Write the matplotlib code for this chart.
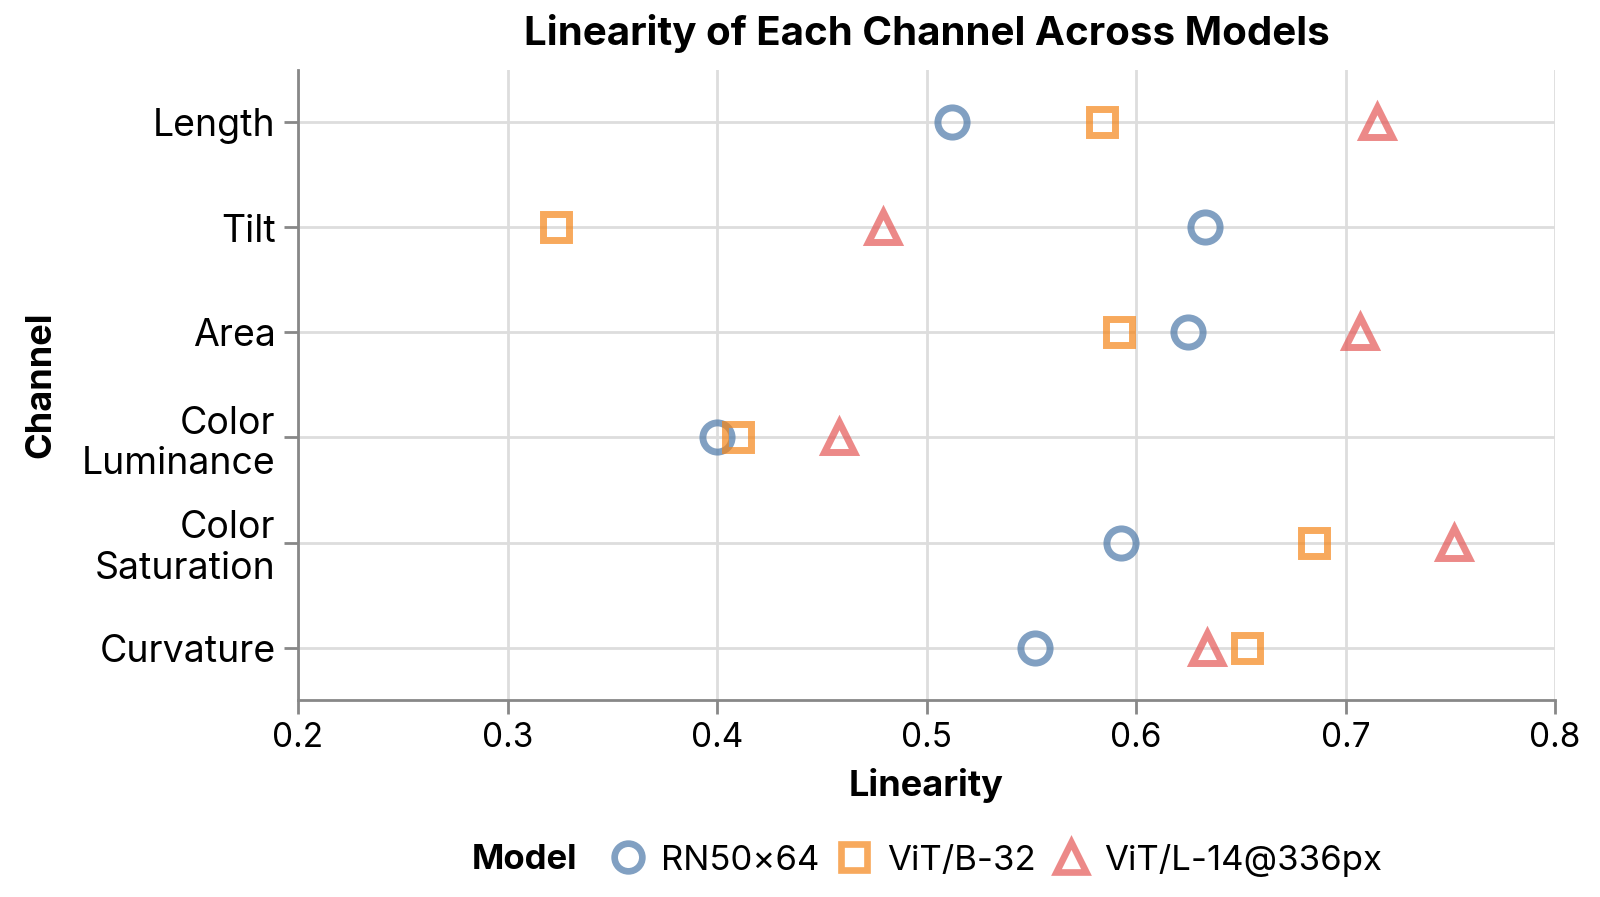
import matplotlib.pyplot as plt
from matplotlib.lines import Line2D

plt.rcParams['font.family'] = ['Inter', 'DejaVu Sans']

# Données
channels = ["Length", "Tilt", "Area", "Color\nLuminance", "Color\nSaturation", "Curvature"]
models = ["RN50×64", "ViT/B-32", "ViT/L-14@336px"]
rn50 = [0.512, 0.633, 0.625, 0.400, 0.593, 0.552]
vitb32 = [0.584, 0.323, 0.592, 0.410, 0.685, 0.653]
vitl14 = [0.715, 0.479, 0.707, 0.458, 0.752, 0.634]

colors = ["#4c78a8", "#f58518", "#e45756"]
markers = ["o", "s", "^"]
sizes = [21, 19, 22]

fig = plt.figure(figsize=(16, 8.97), dpi=100)
ax = fig.add_axes([298 / 1600, 1 - 700 / 897, (1555 - 298) / 1600, 630 / 897])

ypos = list(range(len(channels)))
for vals, c, m, s in zip([rn50, vitb32, vitl14], colors, markers, sizes):
    ax.plot(vals, ypos, linestyle="none", marker=m, markersize=s,
            markerfacecolor="none", markeredgecolor=c, markeredgewidth=5,
            alpha=0.7, zorder=3)

ax.set_xlim(0.2, 0.8)
ax.set_ylim(len(channels) - 0.5, -0.5)
ax.set_xticks([0.2, 0.3, 0.4, 0.5, 0.6, 0.7, 0.8])
ax.set_xticklabels(["0.2", "0.3", "0.4", "0.5", "0.6", "0.7", "0.8"])
ax.set_yticks(ypos)
ax.set_yticklabels(channels, linespacing=1.15)

ax.grid(True, color="#dddddd", linewidth=2)
ax.set_axisbelow(True)
for side in ["top", "right"]:
    ax.spines[side].set_visible(False)
for side in ["left", "bottom"]:
    ax.spines[side].set_color("#888888")
    ax.spines[side].set_linewidth(2)
ax.tick_params(axis="both", colors="#888888", width=2, length=10, labelcolor="black")
ax.tick_params(axis="y", labelsize=27, pad=6)
ax.tick_params(axis="x", labelsize=24, pad=6)

ax.set_xlabel("Linearity", fontsize=26, fontweight="bold", labelpad=10)
ax.set_ylabel("Channel", fontsize=26, fontweight="bold", labelpad=18)
ax.set_title("Linearity of Each Channel Across Models", fontsize=29,
             fontweight="bold", pad=18)

# Légende
handles = [Line2D([], [], linestyle="none", marker=m, markersize=s * 0.95,
                  markerfacecolor="none", markeredgecolor=c, markeredgewidth=4.8,
                  alpha=0.7)
           for c, m, s in zip(colors, markers, sizes)]
fig.text(525 / 1600, 1 - 860 / 897, "Model", fontsize=25, fontweight="bold",
         ha="center", va="center")
fig.legend(handles, models, loc="center left", bbox_to_anchor=(611 / 1600, 1 - 860 / 897),
           ncol=3, frameon=False, fontsize=25, handlelength=1.0, handletextpad=0.45,
           columnspacing=0.5, borderpad=0, borderaxespad=0)

fig.savefig("out.png", dpi=100)
